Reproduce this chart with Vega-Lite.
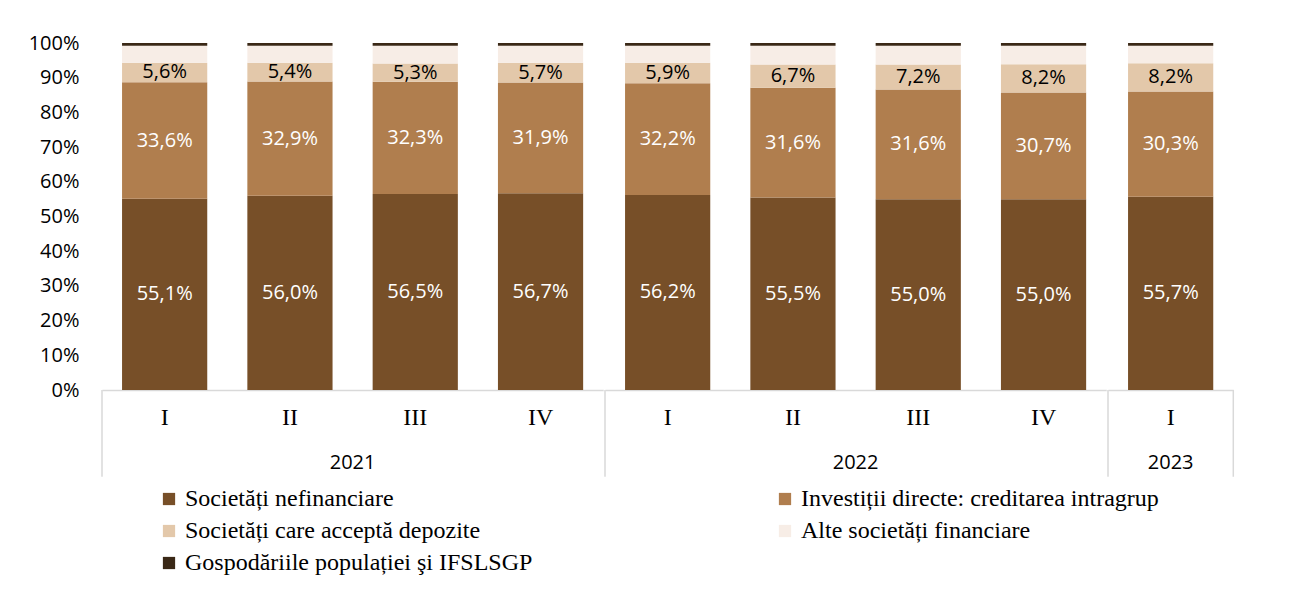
{
  "$schema": "https://vega.github.io/schema/vega-lite/v6.json",
  "background": "white",
  "padding": {"left": 28, "top": 33, "right": 10, "bottom": 5},
  "config": {
    "locale": {"number": {"decimal": ",", "thousands": ".", "grouping": [3], "currency": ["", ""]}},
    "view": {"stroke": null},
    "facet": {"spacing": 0},
    "font": "Open Sans",
    "axisY": {"labelOverlap": false}
  },
  "data": {"values": [
    {"year": "2021", "q": "I", "cat": "Societăți nefinanciare", "v": 0.551},
    {"year": "2021", "q": "I", "cat": "Investiții directe: creditarea intragrup", "v": 0.336},
    {"year": "2021", "q": "I", "cat": "Societăți care acceptă depozite", "v": 0.056},
    {"year": "2021", "q": "I", "cat": "Alte societăți financiare", "v": 0.049},
    {"year": "2021", "q": "I", "cat": "Gospodăriile populației şi IFSLSGP", "v": 0.008},
    {"year": "2021", "q": "II", "cat": "Societăți nefinanciare", "v": 0.560},
    {"year": "2021", "q": "II", "cat": "Investiții directe: creditarea intragrup", "v": 0.329},
    {"year": "2021", "q": "II", "cat": "Societăți care acceptă depozite", "v": 0.054},
    {"year": "2021", "q": "II", "cat": "Alte societăți financiare", "v": 0.049},
    {"year": "2021", "q": "II", "cat": "Gospodăriile populației şi IFSLSGP", "v": 0.008},
    {"year": "2021", "q": "III", "cat": "Societăți nefinanciare", "v": 0.565},
    {"year": "2021", "q": "III", "cat": "Investiții directe: creditarea intragrup", "v": 0.323},
    {"year": "2021", "q": "III", "cat": "Societăți care acceptă depozite", "v": 0.053},
    {"year": "2021", "q": "III", "cat": "Alte societăți financiare", "v": 0.051},
    {"year": "2021", "q": "III", "cat": "Gospodăriile populației şi IFSLSGP", "v": 0.008},
    {"year": "2021", "q": "IV", "cat": "Societăți nefinanciare", "v": 0.567},
    {"year": "2021", "q": "IV", "cat": "Investiții directe: creditarea intragrup", "v": 0.319},
    {"year": "2021", "q": "IV", "cat": "Societăți care acceptă depozite", "v": 0.057},
    {"year": "2021", "q": "IV", "cat": "Alte societăți financiare", "v": 0.049},
    {"year": "2021", "q": "IV", "cat": "Gospodăriile populației şi IFSLSGP", "v": 0.008},
    {"year": "2022", "q": "I", "cat": "Societăți nefinanciare", "v": 0.562},
    {"year": "2022", "q": "I", "cat": "Investiții directe: creditarea intragrup", "v": 0.322},
    {"year": "2022", "q": "I", "cat": "Societăți care acceptă depozite", "v": 0.059},
    {"year": "2022", "q": "I", "cat": "Alte societăți financiare", "v": 0.049},
    {"year": "2022", "q": "I", "cat": "Gospodăriile populației şi IFSLSGP", "v": 0.008},
    {"year": "2022", "q": "II", "cat": "Societăți nefinanciare", "v": 0.555},
    {"year": "2022", "q": "II", "cat": "Investiții directe: creditarea intragrup", "v": 0.316},
    {"year": "2022", "q": "II", "cat": "Societăți care acceptă depozite", "v": 0.067},
    {"year": "2022", "q": "II", "cat": "Alte societăți financiare", "v": 0.054},
    {"year": "2022", "q": "II", "cat": "Gospodăriile populației şi IFSLSGP", "v": 0.008},
    {"year": "2022", "q": "III", "cat": "Societăți nefinanciare", "v": 0.550},
    {"year": "2022", "q": "III", "cat": "Investiții directe: creditarea intragrup", "v": 0.316},
    {"year": "2022", "q": "III", "cat": "Societăți care acceptă depozite", "v": 0.072},
    {"year": "2022", "q": "III", "cat": "Alte societăți financiare", "v": 0.054},
    {"year": "2022", "q": "III", "cat": "Gospodăriile populației şi IFSLSGP", "v": 0.008},
    {"year": "2022", "q": "IV", "cat": "Societăți nefinanciare", "v": 0.550},
    {"year": "2022", "q": "IV", "cat": "Investiții directe: creditarea intragrup", "v": 0.307},
    {"year": "2022", "q": "IV", "cat": "Societăți care acceptă depozite", "v": 0.082},
    {"year": "2022", "q": "IV", "cat": "Alte societăți financiare", "v": 0.053},
    {"year": "2022", "q": "IV", "cat": "Gospodăriile populației şi IFSLSGP", "v": 0.008},
    {"year": "2023", "q": "I", "cat": "Societăți nefinanciare", "v": 0.557},
    {"year": "2023", "q": "I", "cat": "Investiții directe: creditarea intragrup", "v": 0.303},
    {"year": "2023", "q": "I", "cat": "Societăți care acceptă depozite", "v": 0.082},
    {"year": "2023", "q": "I", "cat": "Alte societăți financiare", "v": 0.050},
    {"year": "2023", "q": "I", "cat": "Gospodăriile populației şi IFSLSGP", "v": 0.008}
  ]},
  "transform": [
    {"calculate": "indexof(['Societăți nefinanciare', 'Investiții directe: creditarea intragrup', 'Societăți care acceptă depozite', 'Alte societăți financiare', 'Gospodăriile populației şi IFSLSGP'], datum.cat)", "as": "ord"}
  ],
  "facet": {
    "column": {
      "field": "year", "type": "ordinal",
      "header": {"labelOrient": "bottom", "title": null, "labelFont": "Open Sans", "labelFontSize": 20, "labelColor": "black", "labelPadding": -25}
    }
  },
  "resolve": {"scale": {"x": "independent"}, "axis": {"x": "independent"}},
  "spec": {
    "width": {"step": 125.3},
    "height": 347,
    "encoding": {
      "x": {
        "field": "q", "type": "ordinal", "sort": ["I", "II", "III", "IV"],
        "scale": {"paddingInner": 0, "paddingOuter": 0},
        "axis": {"title": null, "ticks": false, "labelAngle": 0, "labelFont": "Liberation Serif", "labelFontSize": 24, "labelColor": "black", "labelPadding": 15, "domainColor": "#D9D9D9", "domainWidth": 1.5}
      }
    },
    "layer": [
      {
        "mark": {"type": "bar", "width": {"band": 0.68}},
        "encoding": {
          "y": {
            "field": "v", "type": "quantitative", "stack": "zero",
            "scale": {"domain": [0, 1]},
            "axis": {"title": null, "values": [0, 0.1, 0.2, 0.3, 0.4, 0.5, 0.6, 0.7, 0.8, 0.9, 1], "format": ".0%", "grid": false, "domain": false, "ticks": false, "labelOverlap": false, "labelPadding": 22, "labelFont": "Open Sans", "labelFontSize": 20, "labelColor": "black"}
          },
          "order": {"field": "ord", "type": "quantitative"},
          "color": {
            "field": "cat", "type": "nominal",
            "sort": ["Societăți nefinanciare", "Investiții directe: creditarea intragrup", "Societăți care acceptă depozite", "Alte societăți financiare", "Gospodăriile populației şi IFSLSGP"],
            "scale": {
              "domain": ["Societăți nefinanciare", "Investiții directe: creditarea intragrup", "Societăți care acceptă depozite", "Alte societăți financiare", "Gospodăriile populației şi IFSLSGP"],
              "range": ["#774F28", "#B07E4E", "#E3C8AA", "#F7EDE6", "#3A2816"]
            },
            "legend": {
              "title": null, "orient": "none", "legendX": 55, "legendY": 444, "direction": "horizontal", "columns": 2, "columnPadding": 240, "rowPadding": 8,
              "symbolType": "square", "symbolSize": 150, "symbolStrokeWidth": 0, "labelOffset": 4,
              "labelFont": "Liberation Serif", "labelFontSize": 24, "labelColor": "black", "labelLimit": 600
            }
          }
        }
      },
      {
        "mark": {"type": "text", "fontSize": 20, "font": "Open Sans"},
        "encoding": {
          "y": {"field": "v", "type": "quantitative", "stack": "zero", "bandPosition": 0.5,
            "axis": {"title": null, "values": [0, 0.1, 0.2, 0.3, 0.4, 0.5, 0.6, 0.7, 0.8, 0.9, 1], "format": ".0%", "grid": false, "domain": false, "ticks": false, "labelOverlap": false, "labelPadding": 22, "labelFont": "Open Sans", "labelFontSize": 20, "labelColor": "black"}},
          "order": {"field": "ord", "type": "quantitative"},
          "color": {
            "field": "cat", "type": "nominal",
            "sort": ["Societăți nefinanciare", "Investiții directe: creditarea intragrup", "Societăți care acceptă depozite", "Alte societăți financiare", "Gospodăriile populației şi IFSLSGP"]
          },
          "fill": {"condition": {"test": "datum.cat == 'Societăți care acceptă depozite'", "value": "black"}, "value": "white"},
          "text": {
            "condition": {"test": "datum.cat == 'Alte societăți financiare' || datum.cat == 'Gospodăriile populației şi IFSLSGP'", "value": ""},
            "field": "v", "type": "quantitative", "format": ".1%"
          }
        }
      },
      {
        "transform": [{"filter": "datum.q == 'I' && datum.cat == 'Societăți nefinanciare'"}],
        "mark": {"type": "rule", "color": "#D9D9D9", "strokeWidth": 1.5},
        "encoding": {
          "x": {"field": "q", "type": "ordinal", "sort": ["I", "II", "III", "IV"], "bandPosition": 0},
          "y": {"datum": -0.25, "type": "quantitative",
            "axis": {"title": null, "values": [0, 0.1, 0.2, 0.3, 0.4, 0.5, 0.6, 0.7, 0.8, 0.9, 1], "format": ".0%", "grid": false, "domain": false, "ticks": false, "labelOverlap": false, "labelPadding": 22, "labelFont": "Open Sans", "labelFontSize": 20, "labelColor": "black"}},
          "y2": {"datum": 0}
        }
      },
      {
        "transform": [{"filter": "datum.year == '2023' && datum.cat == 'Societăți nefinanciare'"}],
        "mark": {"type": "rule", "color": "#D9D9D9", "strokeWidth": 1.5},
        "encoding": {
          "x": {"field": "q", "type": "ordinal", "sort": ["I", "II", "III", "IV"], "bandPosition": 1},
          "y": {"datum": -0.25, "type": "quantitative",
            "axis": {"title": null, "values": [0, 0.1, 0.2, 0.3, 0.4, 0.5, 0.6, 0.7, 0.8, 0.9, 1], "format": ".0%", "grid": false, "domain": false, "ticks": false, "labelOverlap": false, "labelPadding": 22, "labelFont": "Open Sans", "labelFontSize": 20, "labelColor": "black"}},
          "y2": {"datum": 0}
        }
      }
    ]
  }
}
